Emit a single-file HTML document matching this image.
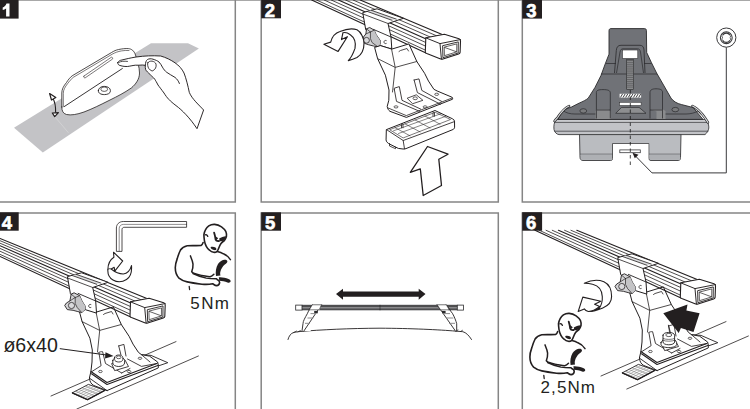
<!DOCTYPE html>
<html><head><meta charset="utf-8">
<style>
html,body{margin:0;padding:0;background:#fff;width:750px;height:409px;overflow:hidden}
svg{display:block}
.n{font-family:"Liberation Sans",sans-serif;font-weight:bold;font-size:18.5px;fill:#fff;stroke:#fff;stroke-width:0.6px;text-rendering:geometricPrecision}
.fr{stroke:#858585;stroke-width:1.5;fill:none}
.ln{stroke:#231f20;fill:none;stroke-linejoin:round;stroke-linecap:round}
.lw{stroke:#231f20;fill:#fff;stroke-linejoin:round;stroke-linecap:round}
</style></head><body>
<svg width="750" height="409" viewBox="0 0 750 409">
<!-- frames -->
<path d="M0 0.5H750" stroke="#a8a8a8" stroke-width="1" fill="none"/>
<path class="fr" d="M235.3 0V201.9H0M261.2 0V201.9H498.3V0M750 201.9H522.3V0"/>
<path class="fr" d="M0 212.9H235.3V409M261.2 409V212.9H498.3V409M522.3 409V212.9H750"/>
<!-- panel 1 -->
<g id="p1">
<path d="M14 127.7L151 43.3H188L198.9 48.4L42.8 152.5Z" fill="#c3c3c6"/>
<path d="M54.7 116.5L68.5 132.8" stroke="#d4d4d6" stroke-width="0.8"/>
<path class="lw" stroke-width="0.8" d="M61.8 107V93C61.8 89.5 63.5 86 66.5 82.5C68 80 70 77.5 72.2 75.8L111.4 52.6C114 51 116 50 118.7 49.5C122 48.8 125.5 48.4 128.5 48.6C131.5 49 134 50.5 135.5 55C137 60 139.5 67 139.5 73C139.5 79 136 84 131.3 88C124 93 118 96 110 100C100 105 92 109 84 112C77 114.5 71 115.5 66.5 114.5C63 113.5 61.8 111 61.8 107Z"/>
<path class="ln" stroke-width="0.6" d="M63.3 106.6V93.3C63.3 90 65 87 67.6 83.6C69 81.5 71 79.2 73.2 77.4L112.2 54.2C115 52.6 118 51.5 121.5 50.9C124 50.5 126.5 50.3 129 50.5"/>
<path class="ln" stroke-width="0.9" d="M64.2 106.6L122.4 68.5"/>
<path class="lw" stroke-width="0.6" d="M83.9 76.1L111.4 57.2C112.2 56.8 112.9 58.2 112.6 59L85.1 77.9C84.2 78.3 83.4 76.6 83.9 76.1Z"/>
<path class="lw" stroke-width="0.9" d="M98.4 90.5V91.2C98.4 93.2 101 94.6 104.4 94.6C107.8 94.6 110.4 93.2 110.4 91.2V90.5C110.4 88.2 107.8 86.4 104.4 86.4C101 86.4 98.4 88.2 98.4 90.5Z"/>
<ellipse cx="104.2" cy="89.2" rx="3.4" ry="2.2" fill="#fff" stroke="#231f20" stroke-width="0.7"/>
<path class="ln" stroke-width="1.1" d="M53 98.5C55 102 55.8 106 55.6 112.4"/>
<path class="lw" stroke-width="1.2" d="M49.6 93.5L55.8 97.6L51.5 100Z"/>
<path class="lw" stroke-width="1.2" d="M52.3 113L58.4 112.6L54.7 116.6Z"/>
<path class="lw" stroke-width="0.95" d="M117.8 62.5C118.5 61 120 60.3 121.9 60C126 59 130 58 136 57C145 55.8 152 55.5 160.7 56C166 57.5 171 60 175 62.8C179 65.5 182 69 184 73C186 78 188 86 189.3 92.4C192 99 199 105 203.6 110L197 128.7C190 118 182 110 176 105.6C170 101 167 98 164 93C161 89 159.5 87 158 85C156.5 82 155.5 80.5 154.7 79.1C153 77 151.5 76 150.4 74.8C148 72.5 146.3 71 145.7 69.7C145.2 68 145.2 66.5 145.3 65.4L142.7 65C140 65.2 137.5 65.3 135.3 65.2C132 65.6 130 66.2 127.3 66.5C124 66.6 121.5 66 119.2 65.2C118 64.5 117.6 63.5 117.8 62.5Z"/>
<path class="ln" stroke-width="0.95" d="M145.3 65.4C145.5 62.5 146 60.5 147.5 59.5C149 58.7 151 58.5 153 59.2C155.5 60 157.5 60.8 159 62C160.5 63.5 161.5 65.5 162.4 67.1C163.8 69.5 165 71 166.7 72.3C169 74 172 75.5 175 77.4C177 79 178.5 81 179.4 83.5"/>
<path class="ln" stroke-width="0.85" d="M147.8 62.8C148.5 61.7 150 61 152 61.1C154 61.5 155.6 62.6 156 64.1C156.3 65.5 156.2 67 155.6 68C154.8 69.5 153.5 70.6 152.1 71C150.7 70.6 149.5 69.5 148.7 68.4C147.8 66.8 147.3 64.5 147.8 62.8Z"/>
<path class="ln" stroke-width="0.8" d="M119 62.3C121 61.2 124 61 127.5 61.4"/>
</g>
<!-- panel 2 -->
<g id="p2">
<path class="ln" stroke-width="1.1" d="M360.20 0.00L441.60 34.20"/>
<path class="ln" stroke-width="0.8" d="M353.07 0.00L439.31 36.96"/>
<path class="ln" stroke-width="0.8" d="M345.50 0.00L436.87 39.90"/>
<path class="ln" stroke-width="1.15" d="M338.38 0.00L434.58 42.66"/>
<path class="ln" stroke-width="0.8" d="M331.25 0.00L432.29 45.42"/>
<path class="ln" stroke-width="0.8" d="M324.16 0.00L430.01 48.17"/>
<path class="ln" stroke-width="0.8" d="M316.55 0.00L427.56 51.12"/>
<path class="ln" stroke-width="1.1" d="M311.70 0.00L426.00 53.00"/>
<g id="asm">
<!-- end cap -->
<path class="lw" stroke-width="1.1" d="M425.8 37.7L444.4 34.3L459 38.8C460.2 39.2 460.6 39.9 460.5 41L460.1 52.4C460 53.2 459.5 53.7 458.6 54L443 59C442 59.3 441 59.2 440 58.8L426.8 53.6C425.9 53.2 425.4 52.7 425.3 52Z"/>
<path class="ln" stroke-width="0.95" d="M425.9 37.9L440 43.6L460.3 39.6M440 43.6L441.4 59"/>
<path class="ln" stroke-width="0.9" d="M443 45.6L458.3 41.9L458.2 53L443.3 57.6Z"/>
<path class="ln" stroke-width="0.7" d="M444.6 47L456.8 43.9L456.7 51.9L444.8 55.6Z"/>
<path class="ln" stroke-width="0.7" d="M444.8 47.5L456.5 51.8"/>
<!-- bracket -->
<path class="lw" stroke-width="1" d="M363.1 12.5L377 8.8L403.4 18.3L388 23.5L391 37L391.8 49.1L380.7 45.7L366 30Z"/>
<path d="M367.2 11.4L371.3 10.3L396.3 19.1L392 20.3Z" fill="#dcdcde"/>
<path class="ln" stroke-width="0.8" d="M367.2 11.4L392 20.3M371.3 10.3L396.3 19.1M388 23.5L363.4 14.2"/>
<path class="ln" stroke-width="0.9" d="M373.4 29.4L391 37"/>
<path class="ln" stroke-width="0.8" d="M386.2 40.5C385 40 384 40.8 384 42C384 43.3 385 44 386.2 43.5"/>
</g>
<path d="M366.5 28.8L369.7 27.5L374.2 30.1L376.1 34.5L380.5 40.9L380.2 44.1L378 46.9L373.5 46L368.4 44.7L364.6 43.4L363 40.3L363.4 37.1L365.9 33.9Z" fill="#d4d4d6" stroke="#231f20" stroke-width="0.9" stroke-linejoin="round"/>
<path d="M370.4 32L374.2 30.1L376.1 34.5L380.5 40.9L380.2 44.1L378 46.9L372 42L370.4 38Z" fill="#c4c4c6"/>
<path class="ln" stroke-width="0.7" d="M366.5 28.8L370.4 32L374.2 30.1M370.4 32L370.4 38.5L372 42.5L378 46.9M365.9 33.9L370.4 32"/>
<circle cx="366.5" cy="40.3" r="2.9" fill="#dadadc" stroke="#231f20" stroke-width="0.75"/>
<!-- foot body -->
<path class="lw" stroke-width="1" d="M374.7 47.8L377.6 58.6L385.4 75.2L389 90L388.8 100.3L387.2 106.4C387.5 108.5 388.5 110.3 389.9 111.3L406.4 117.4L452.6 99.2C452.8 98.3 452.3 97.5 451.5 97L437.2 91L433.9 89.3L428.5 81.1L424.6 73.3L416.8 61.5L408.9 43.9L391.8 49.1L380.7 45.7Z"/>
<path class="ln" stroke-width="0.8" d="M377.6 58.6L395.2 67.4L416.8 61.5M391.3 47.8L395.2 67.4L392.5 92M399 51.5L400.5 50.5L407 48.5L408.5 51"/>
<path class="ln" stroke-width="0.8" d="M388.2 108L406.3 115.6L452.6 97.8"/>
<path class="ln" stroke-width="0.85" d="M394.3 89.3L396.5 101.4L419.6 111.3M394.3 89.3L394.3 88.2L399.3 86.6L402 100.3L420.7 109.1M414.1 80L417.4 92.6L440.5 104.2M414.1 80L419 78.9L421.8 90.4L441.6 101.4"/>
<path class="ln" stroke-width="0.8" d="M407.5 98.1L416.3 94.8L422.9 100.3L413 103.6Z"/>
<ellipse cx="415.2" cy="98.3" rx="2.2" ry="1.4" fill="none" stroke="#231f20" stroke-width="0.7"/>
<ellipse cx="396" cy="106.9" rx="2" ry="1.1" fill="none" stroke="#231f20" stroke-width="0.7"/>
<ellipse cx="425.1" cy="106.9" rx="2" ry="1.1" fill="none" stroke="#231f20" stroke-width="0.7"/>
<ellipse cx="436.7" cy="94.3" rx="2" ry="1.1" fill="none" stroke="#231f20" stroke-width="0.7"/>
<!-- curl arrow -->
<path class="lw" stroke-width="1.15" d="M323.9 44.3L330.7 42.1C332 37 335 33 340 31.5C346 29 352 28 357 29.8C361 32 364 38 364 43.5C364 50 361 55 357 57.5C354 59 351 60 348.3 60.6C351 58 353 54 355 48.4C356 43 355 38 350.3 34.7C348 33 345 32 342.9 32.8L341.5 39.6L347.4 36.7L338.1 51.4Z"/>
<!-- pad -->
<path class="lw" stroke-width="1" d="M386.7 129.5L435 110.5L452.5 118.8C453.6 119.3 454.3 120 454.5 121.2L454.6 127C454.6 128.2 454 129 453 129.5L406 148.6C405 149 404 149.1 403 149L398.3 148.4L390 144.3C387.5 143 386.2 141.8 386.1 140.3Z"/>
<path class="ln" stroke-width="0.85" d="M386.8 129.8L403.2 140.5L454.4 121.6M403.2 140.5L404.5 148.8"/>
<path class="ln" stroke-width="0.6" d="M390 129.6L435.2 112.3L450.5 119.5L403.5 137.8Z"/>
<path class="ln" stroke-width="0.55" d="M395 127.6L410 135.8M405 123.8L420 131.9M415 119.9L430 128M425 116L440 124.2M398.5 133.5L446 116.2M393.5 130.8L441.5 113.5"/>
<path class="ln" stroke-width="0.8" d="M401.5 127.8V124.3C401.5 123.6 403 123.6 403 124.3V127.8M433 116.2V112.7C433 112 434.5 112 434.5 112.7V116.2"/>
<path class="ln" stroke-width="0.8" d="M389.5 143.5V146L395.5 148.7V147.2"/>
<!-- up arrow -->
<path class="lw" stroke-width="1.3" d="M427.5 146.5L448 154.2L438.8 159.2L441.5 185.5L423.2 195.5L420.3 168.8L410.3 172.3Z"/>
</g>
<!-- panel 3 -->
<g id="p3">
<!-- lower block -->
<path d="M579.5 134L580 157.5C580 159 581 160.5 583 160.5H610.5C612 160.5 612.6 159.5 612.6 158.5V143.5H648.8V158.5C648.8 159.5 649.5 160.5 651 160.5H678.5C680 160.5 680.5 159 680.5 157.5L681 134Z" fill="#babcc0" stroke="#3a3a3c" stroke-width="0.9"/>
<path d="M580.2 154.2H612.4M649 154.2H680.5" stroke="#3a3a3c" stroke-width="0.7"/>
<path d="M580.5 154.6H612V159.8H581.5ZM649.3 154.6H680V159.8H650Z" fill="#aeb0b4"/>
<rect x="613" y="143.9" width="35.4" height="17" fill="#fff"/>
<rect x="619.8" y="149.9" width="20.5" height="2.8" fill="#fff" stroke="#3a3a3c" stroke-width="0.8"/>
<!-- rim band -->
<path d="M556 119.6H706.5C708 122.5 709 125.5 708.8 128C708.5 130.5 707 133 705 134.6H559C556.5 134.4 554.5 132 554 129.5C553.6 126 554 122.5 556 119.6Z" fill="#c2c3c7" stroke="#3a3a3c" stroke-width="0.9"/>
<path d="M555.2 120.1H707.5V122H554.5Z" fill="#c9cace"/>
<path d="M554.3 122.4H708.3M554.3 131.2H708.4" stroke="#3a3a3c" stroke-width="0.75"/>
<!-- tower -->
<path d="M609 30.6C609 29.3 609.8 28.6 611 28.6H644.4C645.7 28.6 646.4 29.3 646.4 30.5L646.7 52.5L651.5 62.8L656.6 73L663.5 85L671 98.1C673.5 101.5 677 103.5 681.3 104.5L693 107.5L701 117L703 119.4H558L562 111.5L563 110L571.5 107L579.4 103C583 101.5 586 100 588.2 98.2L595 87.4L600.9 75.7L605.3 63.7L609 54.2Z" fill="#707277" stroke="#2a2a2c" stroke-width="0.9"/>
<path d="M605.5 63.5H616M644 63.5H651.5M601 74H657" stroke="#2a2a2c" stroke-width="0.7" fill="none"/>
<path d="M614.5 73L616.3 50.5C616.6 47 618 45.3 621 45.3H640C642.5 45.3 643.8 47 644 50L645 73" fill="none" stroke="#2a2a2c" stroke-width="0.8"/>
<path d="M616.5 73L620 52C620.5 49.5 621.5 48.8 623 48.8H637.5C639 48.8 640 49.5 640.5 52L643.5 73" fill="none" stroke="#2a2a2c" stroke-width="0.7"/>
<rect x="622.4" y="50" width="15.4" height="8.5" fill="#fff" stroke="#2a2a2c" stroke-width="0.6"/>
<rect x="626.7" y="59.4" width="6.8" height="30" fill="#8a8b8d" stroke="#2a2a2c" stroke-width="0.6"/>
<path d="M626.9 60.5H633.3M626.9 62.4H633.3M626.9 64.3H633.3M626.9 66.2H633.3M626.9 68.1H633.3M626.9 70.0H633.3M626.9 71.9H633.3M626.9 73.8H633.3M626.9 75.7H633.3M626.9 77.6H633.3M626.9 79.5H633.3M626.9 81.4H633.3M626.9 83.3H633.3M626.9 85.2H633.3M626.9 87.1H633.3" stroke="#4a4a4c" stroke-width="0.6"/>
<rect x="619.6" y="93.8" width="21.5" height="3.8" fill="#fff"/>
<path d="M620.5 97.4L622.5 94M623.1 97.4L625.1 94M625.7 97.4L627.7 94M628.3 97.4L630.3 94M630.9 97.4L632.9 94M633.5 97.4L635.5 94M636.1 97.4L638.1 94M638.7 97.4L640.7 94" stroke="#2a2a2c" stroke-width="0.9"/>
<rect x="619.6" y="102.4" width="21.5" height="3" fill="#fff" stroke="#2a2a2c" stroke-width="0.5"/>
<path d="M621.5 107.4H639.1L646 113.3H615.7Z" fill="#8d8e90" stroke="#2a2a2c" stroke-width="0.7"/>
<path d="M563 110.5C566 113 570 114 575 114H598V117M662 114H686C690 114 695 113 698 111" fill="none" stroke="#2a2a2c" stroke-width="0.7"/>
<path d="M595.5 119V111L597.5 109.5H608.5L611 111.5V119Z" fill="#8a8b8d"/>
<path d="M656.5 119V111.5L650.5 109.5H663L665.5 111V119Z" fill="#8a8b8d"/>
<path d="M596.4 118.5V92.5C596.4 90.3 598.5 89.6 603 89.6C608 89.6 610.3 90.5 610.3 93V118.5M597 110H610" fill="none" stroke="#2a2a2c" stroke-width="0.75"/>
<path d="M650 118.5V92.5C650 90 652 88.8 656 88.8C660 88.8 662.5 89.8 662.5 92V118.5M650 110H662" fill="none" stroke="#2a2a2c" stroke-width="0.75"/>
<ellipse cx="583.3" cy="110.9" rx="3.4" ry="2.2" fill="#7a7b7d" stroke="#2a2a2c" stroke-width="0.7"/>
<ellipse cx="675.3" cy="109.6" rx="3.4" ry="2.2" fill="#7a7b7d" stroke="#2a2a2c" stroke-width="0.7"/>
<!-- rim highlight tips -->
<path d="M569 106.1C566 107.5 562 111 557.8 117.3C556.3 119 555.5 120 554.6 121" fill="none" stroke="#2a2a2c" stroke-width="2.6" stroke-linecap="round"/>
<path d="M569 106.1C566 107.5 562 111 557.8 117.3C556.3 119 555.5 120 554.6 121" fill="none" stroke="#dcdddf" stroke-width="1.1" stroke-linecap="round"/>
<path d="M692.5 106.1C695.5 107.5 699 110.5 701.9 113.8C704.5 117 706.5 120 707.9 122.4" fill="none" stroke="#2a2a2c" stroke-width="2.6" stroke-linecap="round"/>
<path d="M692.5 106.1C695.5 107.5 699 110.5 701.9 113.8C704.5 117 706.5 120 707.9 122.4" fill="none" stroke="#dcdddf" stroke-width="1.1" stroke-linecap="round"/>

<!-- center dashed line -->
<path d="M630.3 90V166" stroke="#1a1a1a" stroke-width="0.8" stroke-dasharray="3.5 3"/>
<!-- icon + leader -->
<circle cx="726.3" cy="37.6" r="9.6" fill="#fff" stroke="#3a3a3c" stroke-width="1"/>
<circle cx="726.3" cy="37.7" r="5.9" fill="#fff" stroke="#3a3a3c" stroke-width="1.1"/>
<path d="M722.6 35.2C723.5 33.6 724.8 33 726.3 33C727.8 33 729.1 33.6 730 35.2M722.6 40.2C723.5 41.8 724.8 42.4 726.3 42.4C727.8 42.4 729.1 41.8 730 40.2" fill="none" stroke="#3a3a3c" stroke-width="1.3"/>
<path d="M722 35.5V37L722.8 37.7L722 38.4V40M730.6 35.5V37L729.8 37.7L730.6 38.4V40" fill="none" stroke="#3a3a3c" stroke-width="0.8"/>
<path d="M726.3 47.3V172.9H652L634.5 155" fill="none" stroke="#3a3a3c" stroke-width="1"/>
<path d="M632.5 152.8L638.5 154.8L634.8 158.2Z" fill="#231f20"/>
</g>
<!-- panel 4 -->
<g id="p4">
<path class="ln" stroke-width="0.8" d="M51 396L176 341.6M76.8 409L198.4 356"/>
<path class="lw" stroke-width="0.9" d="M72.4 392.8L88.4 384.4L104.8 390.4L87.6 399.6Z"/>
<path class="ln" style="stroke:#707070" stroke-width="0.5" d="M75.6 391.1L91.0 397.8M78.8 389.4L94.5 395.9M82.0 387.8L97.9 394.1M85.2 386.1L101.4 392.2M74.9 393.9L91.1 385.4M77.5 395.1L93.9 386.4M80.0 396.2L96.6 387.4M82.5 397.3L99.3 388.4M85.1 398.5L102.1 389.4"/>
<path class="ln" stroke-width="1.3" d="M72.4 392.8L87.6 399.6L104.8 390.4"/>
<path class="lw" stroke-width="0.9" d="M141.5 354.7L151 355.4L167.8 362.7L159 365.7L150 362Z"/>
<!-- body -->
<path class="lw" stroke-width="1" d="M79.2 310.8L82.1 321.6L89.9 338.2L92.3 350L92 362L90.9 371.5L89.4 378.1C89.8 381.5 91 384 93.8 385.5L107 390.6L158.3 367.9C158.5 366 158.3 364 157.6 362L149.5 356.1L141.5 354.7L138.4 352.3L133 344.1L129.1 336.3L121.3 324.5L113.4 306.9L96.3 312.1L85.2 308.7Z"/>
<path class="ln" stroke-width="0.8" d="M82.1 321.6L99.7 330.4L121.3 324.5M95.8 310.8L99.7 330.4L97.5 352M103.5 314.5L105 313.5L111.5 311.5L113 314"/>
<path class="ln" stroke-width="1.1" d="M90.9 371.5L107 382.5L156.8 363.5M91.5 373.8L107 384.5L157.8 365.6"/>
<path class="ln" stroke-width="0.9" d="M89.4 378.1L107 390.6"/>
<path class="ln" stroke-width="0.85" d="M98.9 352.5C99.5 351.8 101.5 351.5 102.6 351.7L105.5 363.5L121.7 373M98.9 352.5L101.1 365.7L91.5 371.8M118.7 345.9L123.9 344.4L126 356M118.7 345.9L120.9 354.7M127.5 359L141.5 366.4L156.8 363.5M141.5 354.7L150 362M121.7 373L130 368.5"/>
<path class="lw" stroke-width="0.85" d="M112 363.5L125 360L128.5 366.5L115 370.5Z"/>
<path class="lw" stroke-width="0.9" d="M112.8 360.5V363C112.8 365 115.5 366.5 118.7 366.5C121.9 366.5 124.6 365 124.6 363V360.5C124.6 358.5 121.9 357 118.7 357C115.5 357 112.8 358.5 112.8 360.5Z"/>
<path class="lw" stroke-width="0.85" d="M114.6 357.5V359.5C114.6 361 116.5 362 118.7 362C120.9 362 122.8 361 122.8 359.5V357.5C122.8 356 120.9 355 118.7 355C116.5 355 114.6 356 114.6 357.5Z"/>
<ellipse cx="118.7" cy="357.3" rx="2.3" ry="1.4" fill="none" stroke="#231f20" stroke-width="0.7"/>
<ellipse cx="100.4" cy="371.5" rx="1.8" ry="1.1" fill="none" stroke="#231f20" stroke-width="0.7"/>
<ellipse cx="129" cy="371.5" rx="1.8" ry="1.1" fill="none" stroke="#231f20" stroke-width="0.7"/>
<ellipse cx="140" cy="358.3" rx="1.8" ry="1.1" fill="none" stroke="#231f20" stroke-width="0.7"/>
<g transform="translate(-295.3 264)">
<path class="ln" stroke-width="1.1" d="M295.30 -25.51L441.60 34.20"/>
<path class="ln" stroke-width="0.8" d="M295.30 -23.33L439.31 36.96"/>
<path class="ln" stroke-width="0.8" d="M295.30 -20.81L436.87 39.90"/>
<path class="ln" stroke-width="1.15" d="M295.30 -18.26L434.58 42.66"/>
<path class="ln" stroke-width="0.8" d="M295.30 -15.58L432.29 45.42"/>
<path class="ln" stroke-width="0.8" d="M295.30 -12.78L430.01 48.17"/>
<path class="ln" stroke-width="0.8" d="M295.30 -9.65L427.56 51.12"/>
<path class="ln" stroke-width="1.1" d="M295.30 -7.60L426.00 53.00"/>
<!-- end cap -->
<path class="lw" stroke-width="1.1" d="M425.8 37.7L444.4 34.3L459 38.8C460.2 39.2 460.6 39.9 460.5 41L460.1 52.4C460 53.2 459.5 53.7 458.6 54L443 59C442 59.3 441 59.2 440 58.8L426.8 53.6C425.9 53.2 425.4 52.7 425.3 52Z"/>
<path class="ln" stroke-width="0.95" d="M425.9 37.9L440 43.6L460.3 39.6M440 43.6L441.4 59"/>
<path class="ln" stroke-width="0.9" d="M443 45.6L458.3 41.9L458.2 53L443.3 57.6Z"/>
<path class="ln" stroke-width="0.7" d="M444.6 47L456.8 43.9L456.7 51.9L444.8 55.6Z"/>
<path class="ln" stroke-width="0.7" d="M444.8 47.5L456.5 51.8"/>
<!-- bracket -->
<path class="lw" stroke-width="1" d="M363.1 12.5L377 8.8L403.4 18.3L388 23.5L391 37L391.8 49.1L380.7 45.7L366 30Z"/>
<path d="M367.2 11.4L371.3 10.3L396.3 19.1L392 20.3Z" fill="#dcdcde"/>
<path class="ln" stroke-width="0.8" d="M367.2 11.4L392 20.3M371.3 10.3L396.3 19.1M388 23.5L363.4 14.2"/>
<path class="ln" stroke-width="0.9" d="M373.4 29.4L391 37"/>
<path class="ln" stroke-width="0.8" d="M386.2 40.5C385 40 384 40.8 384 42C384 43.3 385 44 386.2 43.5"/>

<path d="M366.5 30.1L369.4 28.8L375 31.7L377.3 37L380.5 42.1L380.5 45.6L377 48.5L373.1 47.6L368.4 46.3L362.6 45.6L360 41.5L361.7 39L365.2 36.9Z" fill="#d4d4d6" stroke="#231f20" stroke-width="0.9" stroke-linejoin="round"/>
<path d="M370.5 33.5L375 31.7L377.3 37L380.5 42.1L380.5 45.6L377 48.5L372.5 43.5L370.5 39Z" fill="#c4c4c6"/>
<path class="ln" stroke-width="0.7" d="M366.5 30.1L370.5 33.5L375 31.7M370.5 33.5L370.5 39.5L372.5 43.5L377 48.5M365.2 36.9L370.5 33.5"/>
<circle cx="366.8" cy="41.5" r="3.1" fill="#dadadc" stroke="#231f20" stroke-width="0.75"/>
</g>
<!-- allen key -->
<path class="lw" stroke-width="0.8" d="M116.4 251V228C116.4 224.5 119 221.5 123.3 221.5H186.6V227.3H124.1C123 227.3 122 228.2 122 229.6V251Z"/>
<path class="ln" stroke-width="0.5" d="M119.2 251V228.5C119.2 226 121 224.4 123.5 224.4H186.6"/>
<!-- curl arrow 4 -->
<path class="lw" stroke-width="1.1" d="M113.5 252.2L122.7 261L114.8 271.2L114.2 267.3L111.2 269C115.5 272.5 119.5 274 123.2 274C127 273.5 130 271 131.5 265.6C132 272 130.5 277 126.5 279.5C122.5 282 117 282.3 113 280C109.5 278 107.5 274 107.9 269.3C108 264 110.5 259.5 113.9 257.3Z"/>
<path class="ln" stroke-width="0.9" d="M107.9 269.3C109 268.5 110.2 268.5 111.2 269"/>
<!-- leader -->
<path class="ln" stroke-width="1" d="M60.2 348.7L108 355.2"/>
<path d="M113.5 356L105.5 352.2L105 358.4Z" fill="#231f20"/>
<text x="3.4" y="351.9" font-family="Liberation Sans, sans-serif" font-size="19.6" fill="#231f20">ø6x40</text>
<text x="190.3" y="308.7" font-family="Liberation Sans, sans-serif" font-size="17" letter-spacing="1.4" fill="#231f20">5Nm</text>
<g>
<path class="lw" stroke-width="1.6" d="M203.1 242.5C202.6 244 202 245 201 245.5C199 245.8 193 245.5 187.2 245.7C184 246.3 182 247.5 180.5 250C179 253 178 256 177.1 259.1C176 262 175.2 265 175.3 268C175.3 272 176.5 275.5 179 278.1C182 280.5 185 281.5 187.2 281.9C192 283 197 283.6 202 284.2C206 284.6 209 284.5 212.7 283.8C214 284.5 215 285.6 216.5 285.6C218 285.5 219.3 284.5 219.6 282.8C219.8 281 218.5 280 217.1 279.4"/>
<path class="lw" stroke-width="1.6" d="M203.9 234.7C204.5 231 206 228 208.8 225.9C210.5 224.8 212.5 224.3 214.6 224.4C217 224.6 219.5 225.5 221.5 226.8C223.5 228.2 225 229.8 225.9 231.7C226.6 233.3 226.7 235 226.4 236.6C226 238 225.2 239.5 224.4 240.5C223 241.5 222 242.3 221 243.5C220.2 244.6 219.5 246 219 247.4C218.4 249 217.9 250.3 217.1 251.3C216 252.2 215 252.5 213.7 252.3C212 252 210.7 251.3 209.7 250.3C208 249 207 247.8 206.3 246.4C205.3 244.5 204.7 242.5 204.4 240.5C204.1 238.5 203.9 236.5 203.9 234.7Z"/>
<path class="ln" stroke-width="1.3" d="M205.3 234.9C206 234.4 207.2 234.8 207.8 236.4"/>
<path class="ln" stroke-width="1.8" d="M214.1 232.7C214.8 234.5 215.2 237 215.6 239.6M216.2 240.5C217 241 218 241.2 219 241"/>
<path d="M215 235.8L218.2 238.2L216 240.5Z" fill="#231f20"/>
<path d="M219.2 238.5C221 237.3 223.5 236.6 226.2 236.3C225.8 238 225 239.5 224 240.6C222.5 241.3 221 241.5 219.6 241.2Z" fill="#231f20"/>
<path d="M210.7 247C212 246.4 214 246.6 215.5 247.5C216.4 248.3 216.6 249.5 216 250.1C214.5 250.5 212.5 249.8 211.3 248.8C210.8 248.3 210.5 247.6 210.7 247Z" fill="#231f20"/>
<path class="ln" stroke-width="1.5" d="M217.1 251.5C219 252 221 252.5 223.4 253.8C225.5 254.6 228 256 230.4 259.7"/>
<path class="ln" stroke-width="1.5" d="M190.4 255.9C191.5 258.5 192.6 261 193 264.1C193.2 267 192.5 269.5 191.7 271.8C192.5 272.5 193 273 193.6 273.3C196.5 274.5 199.5 275 202.5 275.6C205 276 207.5 276.8 210.1 276.8C211.5 276.5 212.8 275.5 213.9 274.3"/>
<path class="ln" stroke-width="1.4" d="M193 273.5C197 275.5 201.5 277 206.3 278.1C209.5 278.7 213 278.8 216.5 278.8"/>
<path d="M224.1 259.8C225.8 259.4 227.3 260 227.4 261.4C227.2 262.8 225.8 263.8 224.8 264.5C222.5 266.5 221 269 220.3 272C220 273.5 220.2 274.5 220.5 275.5L216 276C215.3 272 216 267.5 218 264C219.5 261.8 221.8 260.3 224.1 259.8Z" fill="#231f20"/>
<path d="M218.8 277.3C222 277 225.5 277.8 228.5 279C230 279.6 230.8 280.5 230.6 281.6C230.3 282.7 229 283 227.5 282.5C225 281.5 222 280.8 219.3 280.8Z" fill="#231f20"/>
<path class="ln" stroke-width="1.3" d="M189.2 286.4L189.6 289.5"/>
</g>
</g>
<!-- panel 5 -->
<g id="p5">
<path d="M336 294L343 288.7V291.4H418.7V288.7L425.5 294L418.7 299.7V296.8H343V299.7Z" fill="#231f20"/>
<path class="ln" stroke-width="0.9" d="M288 339.5C289 336 290.5 333.5 294 332.3L300 331.5C320 329.8 350 328.3 380 328.2C410 328.3 440 329.8 455.5 331.1L462.8 331.7C466 332.5 469 335.5 471.5 339.5"/>
<path class="ln" stroke-width="0.7" d="M294 332.5L296.5 331M298 331.8L300.5 330.5M455.5 331.1L458 330M460.5 331.5L462.5 330.3"/>
<!-- bar -->
<rect x="302" y="304.8" width="155.5" height="5.5" fill="#4e4e50"/>
<rect x="302" y="307.2" width="155.5" height="1.2" fill="#9a9a9c"/>
<path d="M380 304.8V310.3" stroke="#222" stroke-width="0.6"/>
<rect x="295.7" y="305.1" width="6.3" height="5" fill="#fff" stroke="#2a2a2c" stroke-width="0.8"/>
<rect x="457.3" y="305.1" width="6.3" height="5" fill="#fff" stroke="#2a2a2c" stroke-width="0.8"/>
<!-- left foot (mirror of right) -->
<path d="M312.3 304.8H321.5L310.5 331.1H300.6Z" fill="#fff"/>
<path class="ln" stroke-width="0.9" d="M321.5 304.8L303.8 331.1M312.3 304.8C310 308 308 312 307.5 313.3C305 318 303 321 303 323.7L302 331"/>
<path d="M312.3 304.8H321.5L319.2 309.8H309.3Z" fill="#fff" stroke="#2a2a2c" stroke-width="0.6"/>
<rect x="314.2" y="310.9" width="3.6" height="2.4" fill="#2a2a2c"/>
<path d="M310.5 313.6H316M307.5 318H313.3M305 323.3H310" stroke="#8a8a8c" stroke-width="1"/>
<!-- right foot -->
<path d="M437.1 304.8H446.3L456.7 331.1H455.5Z" fill="#fff"/>
<path class="ln" stroke-width="0.9" d="M437.1 304.8L455.5 331.1M446.3 304.8C449 308 451 312 452.4 313.3C454.5 317 456 321 456.7 323.7L456.7 331"/>
<path d="M437.1 304.8H446.3L449.2 309.8H440.6Z" fill="#fff" stroke="#2a2a2c" stroke-width="0.6"/>
<rect x="442" y="310.9" width="3.6" height="2.4" fill="#2a2a2c"/>
<path d="M443.5 313.6H450M446 318H453.3M449 323.3H455" stroke="#8a8a8c" stroke-width="1"/>
</g>
<!-- panel 6 -->
<g id="p6">
<g transform="translate(550 -20)"><path class="ln" stroke-width="0.8" d="M51 396L176 341.6M76.8 409L198.4 356"/>
<path class="lw" stroke-width="0.9" d="M72.4 392.8L88.4 384.4L104.8 390.4L87.6 399.6Z"/>
<path class="ln" style="stroke:#707070" stroke-width="0.5" d="M75.6 391.1L91.0 397.8M78.8 389.4L94.5 395.9M82.0 387.8L97.9 394.1M85.2 386.1L101.4 392.2M74.9 393.9L91.1 385.4M77.5 395.1L93.9 386.4M80.0 396.2L96.6 387.4M82.5 397.3L99.3 388.4M85.1 398.5L102.1 389.4"/>
<path class="ln" stroke-width="1.3" d="M72.4 392.8L87.6 399.6L104.8 390.4"/>
<path class="lw" stroke-width="0.9" d="M141.5 354.7L151 355.4L167.8 362.7L159 365.7L150 362Z"/>
<!-- body -->
<path class="lw" stroke-width="1" d="M79.2 310.8L82.1 321.6L89.9 338.2L92.3 350L92 362L90.9 371.5L89.4 378.1C89.8 381.5 91 384 93.8 385.5L107 390.6L158.3 367.9C158.5 366 158.3 364 157.6 362L149.5 356.1L141.5 354.7L138.4 352.3L133 344.1L129.1 336.3L121.3 324.5L113.4 306.9L96.3 312.1L85.2 308.7Z"/>
<path class="ln" stroke-width="0.8" d="M82.1 321.6L99.7 330.4L121.3 324.5M95.8 310.8L99.7 330.4L97.5 352M103.5 314.5L105 313.5L111.5 311.5L113 314"/>
<path class="ln" stroke-width="1.1" d="M90.9 371.5L107 382.5L156.8 363.5M91.5 373.8L107 384.5L157.8 365.6"/>
<path class="ln" stroke-width="0.9" d="M89.4 378.1L107 390.6"/>
<path class="ln" stroke-width="0.85" d="M98.9 352.5C99.5 351.8 101.5 351.5 102.6 351.7L105.5 363.5L121.7 373M98.9 352.5L101.1 365.7L91.5 371.8M118.7 345.9L123.9 344.4L126 356M118.7 345.9L120.9 354.7M127.5 359L141.5 366.4L156.8 363.5M141.5 354.7L150 362M121.7 373L130 368.5"/>
<path class="lw" stroke-width="0.85" d="M112 363.5L125 360L128.5 366.5L115 370.5Z"/>
<path class="lw" stroke-width="0.9" d="M112.8 360.5V363C112.8 365 115.5 366.5 118.7 366.5C121.9 366.5 124.6 365 124.6 363V360.5C124.6 358.5 121.9 357 118.7 357C115.5 357 112.8 358.5 112.8 360.5Z"/>
<path class="lw" stroke-width="0.85" d="M114.6 357.5V359.5C114.6 361 116.5 362 118.7 362C120.9 362 122.8 361 122.8 359.5V357.5C122.8 356 120.9 355 118.7 355C116.5 355 114.6 356 114.6 357.5Z"/>
<ellipse cx="118.7" cy="357.3" rx="2.3" ry="1.4" fill="none" stroke="#231f20" stroke-width="0.7"/>
<ellipse cx="100.4" cy="371.5" rx="1.8" ry="1.1" fill="none" stroke="#231f20" stroke-width="0.7"/>
<ellipse cx="129" cy="371.5" rx="1.8" ry="1.1" fill="none" stroke="#231f20" stroke-width="0.7"/>
<ellipse cx="140" cy="358.3" rx="1.8" ry="1.1" fill="none" stroke="#231f20" stroke-width="0.7"/>
</g>
<g transform="translate(255 245)">
<path class="ln" stroke-width="1.1" d="M321.78 -14.70L441.60 34.20"/>
<path class="ln" stroke-width="0.8" d="M315.91 -14.70L439.31 36.96"/>
<path class="ln" stroke-width="0.8" d="M309.55 -14.70L436.87 39.90"/>
<path class="ln" stroke-width="1.15" d="M303.45 -14.70L434.58 42.66"/>
<path class="ln" stroke-width="0.8" d="M297.27 -14.70L432.29 45.42"/>
<path class="ln" stroke-width="0.8" d="M291.06 -14.70L430.01 48.17"/>
<path class="ln" stroke-width="0.8" d="M284.32 -14.70L427.56 51.12"/>
<path class="ln" stroke-width="1.1" d="M280.00 -14.70L426.00 53.00"/>
<!-- end cap -->
<path class="lw" stroke-width="1.1" d="M425.8 37.7L444.4 34.3L459 38.8C460.2 39.2 460.6 39.9 460.5 41L460.1 52.4C460 53.2 459.5 53.7 458.6 54L443 59C442 59.3 441 59.2 440 58.8L426.8 53.6C425.9 53.2 425.4 52.7 425.3 52Z"/>
<path class="ln" stroke-width="0.95" d="M425.9 37.9L440 43.6L460.3 39.6M440 43.6L441.4 59"/>
<path class="ln" stroke-width="0.9" d="M443 45.6L458.3 41.9L458.2 53L443.3 57.6Z"/>
<path class="ln" stroke-width="0.7" d="M444.6 47L456.8 43.9L456.7 51.9L444.8 55.6Z"/>
<path class="ln" stroke-width="0.7" d="M444.8 47.5L456.5 51.8"/>
<!-- bracket -->
<path class="lw" stroke-width="1" d="M363.1 12.5L377 8.8L403.4 18.3L388 23.5L391 37L391.8 49.1L380.7 45.7L366 30Z"/>
<path d="M367.2 11.4L371.3 10.3L396.3 19.1L392 20.3Z" fill="#dcdcde"/>
<path class="ln" stroke-width="0.8" d="M367.2 11.4L392 20.3M371.3 10.3L396.3 19.1M388 23.5L363.4 14.2"/>
<path class="ln" stroke-width="0.9" d="M373.4 29.4L391 37"/>
<path class="ln" stroke-width="0.8" d="M386.2 40.5C385 40 384 40.8 384 42C384 43.3 385 44 386.2 43.5"/>

<path d="M366.5 30.1L369.4 28.8L375 31.7L377.3 37L380.5 42.1L380.5 45.6L377 48.5L373.1 47.6L368.4 46.3L362.6 45.6L360 41.5L361.7 39L365.2 36.9Z" fill="#d4d4d6" stroke="#231f20" stroke-width="0.9" stroke-linejoin="round"/>
<path d="M370.5 33.5L375 31.7L377.3 37L380.5 42.1L380.5 45.6L377 48.5L372.5 43.5L370.5 39Z" fill="#c4c4c6"/>
<path class="ln" stroke-width="0.7" d="M366.5 30.1L370.5 33.5L375 31.7M370.5 33.5L370.5 39.5L372.5 43.5L377 48.5M365.2 36.9L370.5 33.5"/>
<circle cx="366.8" cy="41.5" r="3.1" fill="#dadadc" stroke="#231f20" stroke-width="0.75"/>
</g>
<!-- taller nut -->
<path class="lw" stroke-width="0.9" d="M661 342.5V344.5C661 346.3 664.5 347.6 668.8 347.6C673.1 347.6 676.6 346.3 676.6 344.5V342.5C676.6 340.7 673.1 339.4 668.8 339.4C664.5 339.4 661 340.7 661 342.5Z"/>
<path class="lw" stroke-width="0.9" d="M663 335.2V342C663 343.6 665.6 344.8 668.8 344.8C672 344.8 674.6 343.6 674.6 342V335.2C674.6 333.6 672 332.4 668.8 332.4C665.6 332.4 663 333.6 663 335.2Z"/>
<path class="ln" stroke-width="0.6" d="M663.2 338.5C665 339.8 672.6 339.8 674.4 338.5M663.2 340.3C665 341.6 672.6 341.6 674.4 340.3"/>
<ellipse cx="668.8" cy="335" rx="3" ry="1.6" fill="none" stroke="#231f20" stroke-width="0.7"/>
<path class="ln" stroke-width="0.8" d="M668.4 325.2L669.5 331.5"/>
<!-- black arrow -->
<path d="M663.3 313.2L687.5 304.4L686.4 310.4L699.6 313.2L693.5 331.9L680.9 328L678.7 333Z" fill="#231f20"/>
<!-- curl arrow 6 -->
<path class="lw" stroke-width="1.1" d="M584.3 283.2C590 280.5 597 279 603.9 281.7C609 284 611.6 290 611.6 296.6C611.6 302 608 306 602.8 307.9C598 310 592 311.5 588.4 311.5L599.2 308.4C601.5 305 602.5 300 602.3 296.6C602 290 598 285.5 592.6 284.2C590 283.5 587 283.2 584.3 283.2Z"/>
<path class="lw" stroke-width="1.1" d="M578.2 311.5L582.8 297.1L600.8 301.2L594.6 304.3L599.7 306.5C596 309.5 592 311.5 588.4 311.5C586.5 311 585 310 584.3 308.9Z"/>
<g transform="translate(354.6 89)">
<g>
<path class="lw" stroke-width="1.6" d="M203.1 242.5C202.6 244 202 245 201 245.5C199 245.8 193 245.5 187.2 245.7C184 246.3 182 247.5 180.5 250C179 253 178 256 177.1 259.1C176 262 175.2 265 175.3 268C175.3 272 176.5 275.5 179 278.1C182 280.5 185 281.5 187.2 281.9C192 283 197 283.6 202 284.2C206 284.6 209 284.5 212.7 283.8C214 284.5 215 285.6 216.5 285.6C218 285.5 219.3 284.5 219.6 282.8C219.8 281 218.5 280 217.1 279.4"/>
<path class="lw" stroke-width="1.6" d="M203.9 234.7C204.5 231 206 228 208.8 225.9C210.5 224.8 212.5 224.3 214.6 224.4C217 224.6 219.5 225.5 221.5 226.8C223.5 228.2 225 229.8 225.9 231.7C226.6 233.3 226.7 235 226.4 236.6C226 238 225.2 239.5 224.4 240.5C223 241.5 222 242.3 221 243.5C220.2 244.6 219.5 246 219 247.4C218.4 249 217.9 250.3 217.1 251.3C216 252.2 215 252.5 213.7 252.3C212 252 210.7 251.3 209.7 250.3C208 249 207 247.8 206.3 246.4C205.3 244.5 204.7 242.5 204.4 240.5C204.1 238.5 203.9 236.5 203.9 234.7Z"/>
<path class="ln" stroke-width="1.3" d="M205.3 234.9C206 234.4 207.2 234.8 207.8 236.4"/>
<path class="ln" stroke-width="1.8" d="M214.1 232.7C214.8 234.5 215.2 237 215.6 239.6M216.2 240.5C217 241 218 241.2 219 241"/>
<path d="M215 235.8L218.2 238.2L216 240.5Z" fill="#231f20"/>
<path d="M219.2 238.5C221 237.3 223.5 236.6 226.2 236.3C225.8 238 225 239.5 224 240.6C222.5 241.3 221 241.5 219.6 241.2Z" fill="#231f20"/>
<path d="M210.7 247C212 246.4 214 246.6 215.5 247.5C216.4 248.3 216.6 249.5 216 250.1C214.5 250.5 212.5 249.8 211.3 248.8C210.8 248.3 210.5 247.6 210.7 247Z" fill="#231f20"/>
<path class="ln" stroke-width="1.5" d="M217.1 251.5C219 252 221 252.5 223.4 253.8C225.5 254.6 228 256 230.4 259.7"/>
<path class="ln" stroke-width="1.5" d="M190.4 255.9C191.5 258.5 192.6 261 193 264.1C193.2 267 192.5 269.5 191.7 271.8C192.5 272.5 193 273 193.6 273.3C196.5 274.5 199.5 275 202.5 275.6C205 276 207.5 276.8 210.1 276.8C211.5 276.5 212.8 275.5 213.9 274.3"/>
<path class="ln" stroke-width="1.4" d="M193 273.5C197 275.5 201.5 277 206.3 278.1C209.5 278.7 213 278.8 216.5 278.8"/>
<path d="M224.1 259.8C225.8 259.4 227.3 260 227.4 261.4C227.2 262.8 225.8 263.8 224.8 264.5C222.5 266.5 221 269 220.3 272C220 273.5 220.2 274.5 220.5 275.5L216 276C215.3 272 216 267.5 218 264C219.5 261.8 221.8 260.3 224.1 259.8Z" fill="#231f20"/>
<path d="M218.8 277.3C222 277 225.5 277.8 228.5 279C230 279.6 230.8 280.5 230.6 281.6C230.3 282.7 229 283 227.5 282.5C225 281.5 222 280.8 219.3 280.8Z" fill="#231f20"/>
<path class="ln" stroke-width="1.3" d="M189.2 286.4L189.6 289.5"/>
</g>

</g>
<text x="540.5" y="392.7" font-family="Liberation Sans, sans-serif" font-size="17" letter-spacing="1.1" fill="#231f20">2,5Nm</text>
</g>
<!-- number boxes -->
<rect x="0" y="0" width="18.6" height="18.6" fill="#231f20"/>
<path d="M6.1 16.6V8.6C5 9.4 3.8 9.9 2.7 10.1V7.4C4.3 6.8 5.8 5.5 6.5 3.4H9.5V16.6Z" fill="#fff"/>
<rect x="261.2" y="0" width="19.8" height="18.3" fill="#231f20"/>
<text class="n" x="264.8" y="16.9">2</text>
<rect x="522.2" y="0" width="19.8" height="18.6" fill="#231f20"/>
<text class="n" x="526.2" y="17.2">3</text>
<rect x="0" y="212.3" width="18.7" height="18.4" fill="#231f20"/>
<text class="n" x="1.8" y="228.6">4</text>
<rect x="261.2" y="212.3" width="19.8" height="18.4" fill="#231f20"/>
<text class="n" x="265" y="229">5</text>
<rect x="522.2" y="212.2" width="19.9" height="18.5" fill="#231f20"/>
<text class="n" x="526" y="229.2">6</text>
</svg>
</body></html>
